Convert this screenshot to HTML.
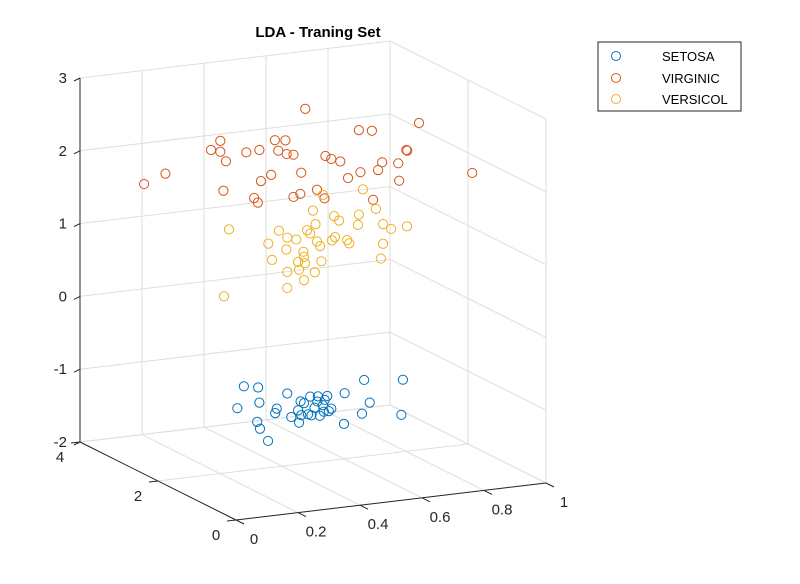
<!DOCTYPE html>
<html><head><meta charset="utf-8"><style>
body{margin:0;background:#fff}
svg{display:block;font-family:"Liberation Sans",Arial,sans-serif}
</style></head><body>
<svg id="chart" width="800" height="584" viewBox="0 0 800 584" xmlns="http://www.w3.org/2000/svg">
<rect width="800" height="584" fill="#fff"/>
<text x="318" y="37" text-anchor="middle" font-size="15" font-weight="bold" fill="#000">LDA - Traning Set</text>
<g id="grid"></g>
<g id="axes"></g>
<g id="marks"></g>
<g>
<rect x="598" y="42" width="143" height="69" fill="#fff" stroke="#262626" stroke-width="1"/>
<g><circle cx="616" cy="56" r="4.5" fill="none" stroke="#0072BD"/><text x="662" y="61" font-size="13" fill="#000">SETOSA</text></g>
<g><circle cx="616" cy="78" r="4.5" fill="none" stroke="#D95319"/><text x="662" y="83" font-size="13" fill="#000">VIRGINIC</text></g>
<g><circle cx="616" cy="99" r="4.5" fill="none" stroke="#EDB120"/><text x="662" y="104" font-size="13" fill="#000">VERSICOL</text></g>
</g>
</svg>
<script>
const xTicks=[0,0.2,0.4,0.6,0.8,1];
const xTickLabels=["0","0.2","0.4","0.6","0.8","1"];
const yTicks=[0,2,4];
const yTickLabels=["0","2","4"];
const zTicks=[-2,-1,0,1,2,3];
const zTickLabels=["-2","-1","0","1","2","3"];

const setosaX=[0.277,0.323,0.417,0.665,0.790,0.256,0.327,0.602,0.683,0.383,0.378,0.320,0.329,0.355,0.430,0.455,0.600,0.658,0.785,0.460,0.471,0.491,0.516,0.546,0.538,0.514,0.532,0.505,0.452,0.484,0.522,0.551,0.535,0.462,0.495,0.559];
const setosaY=[2,2,2,2,2,2,2,2,2,2,2,2,2,2,2,2,2,2,2,2,2,2,2,2,2,2,2,2,2,2,2,2,2,2,2,2];
const setosaZ=[-0.84,-0.88,-1.01,-0.95,-1.01,-1.13,-1.09,-1.10,-1.27,-1.20,-1.26,-1.35,-1.45,-1.63,-1.34,-1.43,-1.52,-1.41,-1.49,-1.14,-1.17,-1.09,-1.10,-1.11,-1.16,-1.17,-1.23,-1.25,-1.26,-1.33,-1.37,-1.32,-1.32,-1.33,-1.35,-1.29];

const virginicX=[0.475,0.842,0.648,0.690,0.201,0.377,0.411,0.171,0.201,0.285,0.327,0.388,0.415,0.437,0.540,0.559,0.588,0.801,0.804,0.219,0.723,0.775,0.024,0.081,0.462,0.365,0.332,0.653,0.710,0.613,0.762,0.778,0.211,0.513,0.459,0.437,0.537,0.310,0.322,0.694];
const virginicY=[2,2,2,2,2,2,2,2,2,2,2,2,2,2,2,2,2,2,2,2,2,2,2,3,2,2,2,2,2,2,0,2,2,2,2,2,2,2,2,2];
const virginicZ=[2.87,2.49,2.49,2.46,2.57,2.49,2.47,2.46,2.42,2.37,2.38,2.34,2.28,2.26,2.19,2.14,2.09,2.14,2.13,2.28,2.01,1.97,2.21,1.77,2.00,2.02,1.95,1.91,1.91,1.85,2.38,1.73,1.88,1.74,1.71,1.68,1.61,1.73,1.66,1.51];

const versicolX=[0.661,0.532,0.500,0.703,0.568,0.584,0.648,0.508,0.645,0.726,0.752,0.803,0.229,0.390,0.481,0.491,0.417,0.446,0.513,0.523,0.561,0.571,0.610,0.617,0.726,0.356,0.414,0.469,0.471,0.452,0.474,0.527,0.368,0.719,0.417,0.455,0.506,0.471,0.417,0.213];
const versicolY=[2,2,2,2,2,2,2,2,2,2,2,2,2,2,2,2,2,2,2,2,2,2,2,2,2,2,2,2,2,2,2,2,2,2,2,2,2,2,2,2];
const versicolZ=[1.67,1.66,1.46,1.38,1.35,1.28,1.33,1.27,1.19,1.16,1.08,1.09,1.34,1.24,1.20,1.15,1.13,1.09,1.03,0.96,1.02,1.06,1.00,0.95,0.89,1.08,0.97,0.91,0.84,0.78,0.75,0.75,0.85,0.69,0.66,0.67,0.61,0.52,0.44,0.43];

const NS="http://www.w3.org/2000/svg";
const O=[236,520], EX=[310,-37], EY=[-39,-19.5], EZ=-72.8;
function P(x,y,z){return [O[0]+x*EX[0]+y*EY[0], O[1]+x*EX[1]+y*EY[1]+(z+2)*EZ];}
function line(g,a,b,col,w,name){
  const l=document.createElementNS(NS,'line');
  l.setAttribute('x1',a[0]);l.setAttribute('y1',a[1]);l.setAttribute('x2',b[0]);l.setAttribute('y2',b[1]);
  l.setAttribute('stroke',col);l.setAttribute('stroke-width',w);
  
  
  g.appendChild(l);
}
function text(g,x,y,s,anchor,name){
  const t=document.createElementNS(NS,'text');
  t.setAttribute('x',x);t.setAttribute('y',y);t.setAttribute('font-size','15');t.setAttribute('fill','#262626');
  t.setAttribute('text-anchor',anchor);t.textContent=s;
  
  
  g.appendChild(t);
}
const grid=document.getElementById('grid'), axes=document.getElementById('axes'), marks=document.getElementById('marks');
const GC='#dedede';
// back wall y=4
xTicks.forEach(x=>line(grid,P(x,4,-2),P(x,4,3),GC,1,'back-wall-grid-x'));
zTicks.forEach(z=>line(grid,P(0,4,z),P(1,4,z),GC,1,'back-wall-grid-z'));
// right wall x=1
yTicks.forEach(y=>line(grid,P(1,y,-2),P(1,y,3),GC,1,'right-wall-grid-y'));
zTicks.forEach(z=>line(grid,P(1,0,z),P(1,4,z),GC,1,'right-wall-grid-z'));
// floor z=-2
xTicks.forEach(x=>line(grid,P(x,0,-2),P(x,4,-2),GC,1,'floor-grid-x'));
yTicks.forEach(y=>line(grid,P(0,y,-2),P(1,y,-2),GC,1,'floor-grid-y'));
// axes
const AC='#262626';
line(axes,P(0,4,-2),P(0,4,3),AC,1,'z-axis-line');
line(axes,P(0,0,-2),P(0,4,-2),AC,1,'y-axis-line');
line(axes,P(0,0,-2),P(1,0,-2),AC,1,'x-axis-line');
zTicks.forEach((z,i)=>{const p=P(0,4,z);line(axes,p,[p[0]-6,p[1]+3],AC,1,'z-tick');text(axes,p[0]-13,p[1]+5,zTickLabels[i],'end','z-tick-label');});
yTicks.forEach((y,i)=>{const p=P(0,y,-2);line(axes,p,[p[0]-9,p[1]+1],AC,1,'y-tick');text(axes,p[0]-20,p[1]+20,yTickLabels[i],'middle','y-tick-label');});
xTicks.forEach((x,i)=>{const p=P(x,0,-2);line(axes,p,[p[0]+8,p[1]+4],AC,1,'x-tick');text(axes,p[0]+18,p[1]+24,xTickLabels[i],'middle','x-tick-label');});
function scatter(X,Y,Z,col,name){
  X.forEach((x,i)=>{const p=P(x,Y[i],Z[i]);
    const c=document.createElementNS(NS,'circle');
    c.setAttribute('cx',p[0]);c.setAttribute('cy',p[1]);c.setAttribute('r','4.6');
    c.setAttribute('fill','none');c.setAttribute('stroke',col);c.setAttribute('stroke-width','1');
    
    
    marks.appendChild(c);});
}
scatter(setosaX,setosaY,setosaZ,'#0072BD','setosa-point');
scatter(virginicX,virginicY,virginicZ,'#D95319','virginic-point');
scatter(versicolX,versicolY,versicolZ,'#EDB120','versicol-point');
</script>
</body></html>
